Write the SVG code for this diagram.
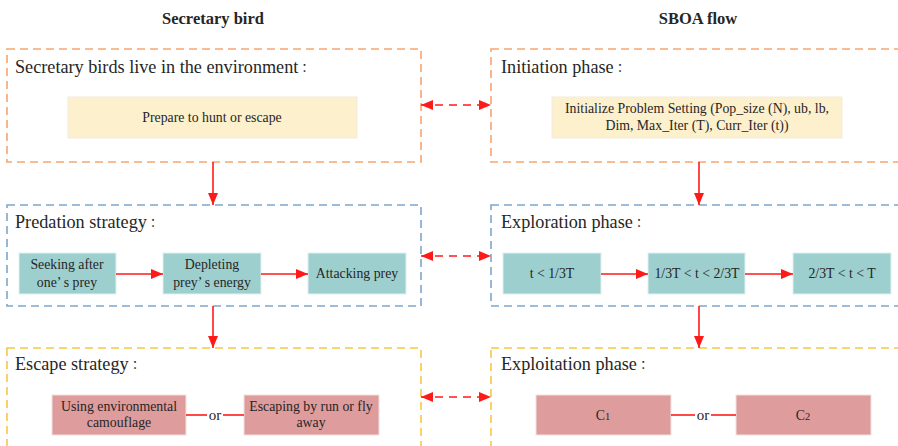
<svg xmlns="http://www.w3.org/2000/svg" width="898" height="446" viewBox="0 0 898 446">
<style>
text{font-family:"Liberation Serif","Times New Roman","Noto Sans CJK SC",serif;fill:#262626}
.hd{font-size:16.5px;font-weight:bold;text-anchor:middle}
.st{font-size:18.2px}
.cl{font-family:"Noto Sans CJK JP","Noto Sans CJK SC",sans-serif;font-size:12.5px}
.bt{font-size:13.8px;text-anchor:middle}
.frame{fill:none;stroke-width:1.6;stroke-dasharray:8 5}
.or{stroke:#F7A56E}.bl{stroke:#7EA6CB}.ye{stroke:#F7C843}
.cream{fill:#FDF0CD;stroke:#F1ECE0;stroke-width:1}
.teal{fill:#9DCFCF;stroke:#E2F0F0;stroke-width:1}
.pink{fill:#DE9C9C;stroke:#F3E0E0;stroke-width:1}
.ar{stroke:#FF1A1A;stroke-width:1.6;fill:none}
.da{stroke-dasharray:8 6}
</style>
<defs>
<marker id="ah2" viewBox="0 0 12 10" refX="12" refY="5" markerWidth="12" markerHeight="10" markerUnits="userSpaceOnUse" orient="auto-start-reverse">
<path d="M0,0 L12,5 L0,10 z" fill="#FF1A1A"/>
</marker>
</defs>

<text class="hd" x="213" y="24">Secretary bird</text>
<text class="hd" x="698" y="24">SBOA flow</text>

<g id="sec-env">
<rect class="frame or" x="7" y="49" width="414" height="113"/>
<text class="st" x="15" y="73">Secretary birds live in the environment<tspan class="cl">：</tspan></text>
</g>
<g id="prepare">
<rect class="cream" x="68" y="97" width="289" height="41"/>
<text class="bt" x="212" y="122">Prepare to hunt or escape</text>
</g>

<g id="init-phase">
<rect class="frame or" x="491" y="49" width="415" height="113"/>
<text class="st" x="501" y="73">Initiation phase<tspan class="cl">：</tspan></text>
</g>
<g id="init-setting">
<rect class="cream" x="552" y="97" width="290" height="41"/>
<text class="bt" x="697" y="113">Initialize Problem Setting (Pop_size (N), ub, lb,</text>
<text class="bt" x="697" y="130">Dim, Max_Iter (T), Curr_Iter (t))</text>
</g>

<g id="predation">
<rect class="frame bl" x="7" y="205" width="414" height="101"/>
<text class="st" x="15" y="228">Predation strategy<tspan class="cl">：</tspan></text>
</g>
<g id="seek">
<rect class="teal" x="19" y="253" width="97" height="41"/>
<text class="bt" x="67" y="269">Seeking after</text>
<text class="bt" x="67" y="287">one’ s prey</text>
</g>
<g id="deplete">
<rect class="teal" x="163" y="253" width="98" height="41"/>
<text class="bt" x="212" y="269">Depleting</text>
<text class="bt" x="212" y="287">prey’ s energy</text>
</g>
<g id="attack">
<rect class="teal" x="308" y="253" width="98" height="41"/>
<text class="bt" x="357" y="278">Attacking prey</text>
</g>

<g id="exploration">
<rect class="frame bl" x="491" y="205" width="415" height="101"/>
<text class="st" x="501" y="228">Exploration phase<tspan class="cl">：</tspan></text>
</g>
<g id="t1">
<rect class="teal" x="503" y="253" width="98" height="41"/>
<text class="bt" x="552" y="278">t &lt; 1/3T</text>
</g>
<g id="t2">
<rect class="teal" x="648" y="253" width="97" height="41"/>
<text class="bt" x="697" y="278">1/3T &lt; t &lt; 2/3T</text>
</g>
<g id="t3">
<rect class="teal" x="793" y="253" width="98" height="41"/>
<text class="bt" x="842" y="278">2/3T &lt; t &lt; T</text>
</g>

<g id="escape">
<rect class="frame ye" x="7" y="348" width="414" height="110"/>
<text class="st" x="15" y="370">Escape strategy<tspan class="cl">：</tspan></text>
</g>
<g id="camouflage">
<rect class="pink" x="52" y="395" width="134" height="40"/>
<text class="bt" x="119" y="411">Using environmental</text>
<text class="bt" x="119" y="427">camouflage</text>
</g>
<g id="run">
<rect class="pink" x="244" y="395" width="135" height="40"/>
<text class="bt" x="311" y="411">Escaping by run or fly</text>
<text class="bt" x="311" y="427">away</text>
</g>

<g id="exploitation">
<rect class="frame ye" x="491" y="348" width="415" height="110"/>
<text class="st" x="501" y="370">Exploitation phase<tspan class="cl">：</tspan></text>
</g>
<g id="c1">
<rect class="pink" x="536" y="395" width="135" height="40"/>
<text class="bt" x="603" y="420">C<tspan font-size="10.5">1</tspan></text>
</g>
<g id="c2">
<rect class="pink" x="736" y="395" width="135" height="40"/>
<text class="bt" x="803" y="420">C<tspan font-size="10.5">2</tspan></text>
</g>

<g id="connectors">
<line class="ar" x1="213" y1="162" x2="213" y2="205" marker-end="url(#ah2)"/>
<line class="ar" x1="699" y1="162" x2="699" y2="205" marker-end="url(#ah2)"/>
<line class="ar" x1="213" y1="306" x2="213" y2="348" marker-end="url(#ah2)"/>
<line class="ar" x1="699" y1="306" x2="699" y2="348" marker-end="url(#ah2)"/>
<line class="ar" x1="116" y1="274" x2="163" y2="274" marker-end="url(#ah2)"/>
<line class="ar" x1="261" y1="274" x2="308" y2="274" marker-end="url(#ah2)"/>
<line class="ar" x1="601" y1="274" x2="648" y2="274" marker-end="url(#ah2)"/>
<line class="ar" x1="745" y1="274" x2="793" y2="274" marker-end="url(#ah2)"/>
<line class="ar da" x1="421" y1="105" x2="491" y2="105" marker-start="url(#ah2)" marker-end="url(#ah2)"/>
<line class="ar da" x1="421" y1="256" x2="491" y2="256" marker-start="url(#ah2)" marker-end="url(#ah2)"/>
<line class="ar da" x1="421" y1="397" x2="491" y2="397" marker-start="url(#ah2)" marker-end="url(#ah2)"/>
<line class="ar" x1="186" y1="415" x2="207" y2="415"/>
<line class="ar" x1="223" y1="415" x2="244" y2="415"/>
<text x="215" y="420" font-size="15" text-anchor="middle">or</text>
<line class="ar" x1="671" y1="415" x2="695" y2="415"/>
<line class="ar" x1="711" y1="415" x2="736" y2="415"/>
<text x="703" y="420" font-size="15" text-anchor="middle">or</text>
</g>
</svg>
